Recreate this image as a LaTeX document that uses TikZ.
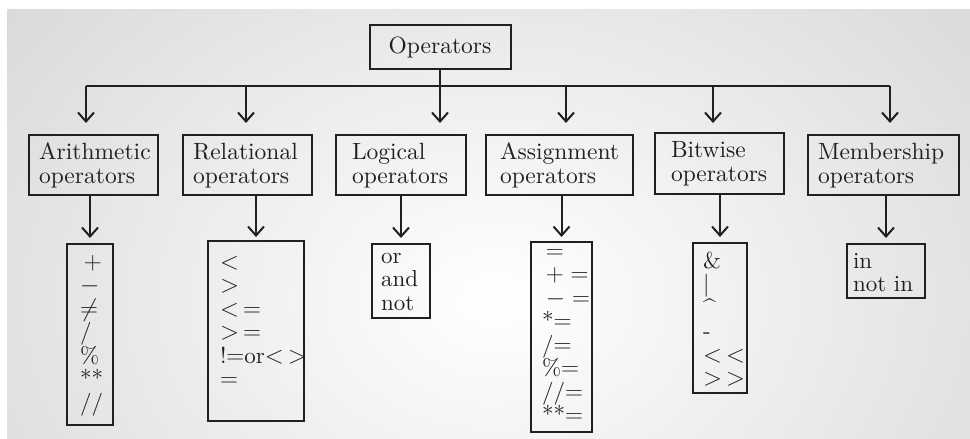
\documentclass[tikz,border=0pt]{standalone}
\usepackage{amsmath,amssymb}
\usepackage{fontspec}
\setmainfont{lmroman10-regular.otf}
\usepackage{xcolor}
\usepackage{tikz}
\usetikzlibrary{arrows.meta,positioning}
\definecolor{panelgrey}{HTML}{C2C3C6}
\definecolor{inkgrey}{HTML}{231F20}
\tikzset{
  opbox/.style={draw=inkgrey, line width=2pt, align=left, anchor=north,
    inner ysep=0pt, inner xsep=10pt, text=inkgrey,
    font=\fontsize{23.5}{24.5}\selectfont},
  listbox/.style={opbox, font=\fontsize{23}{23.5}\selectfont},
  link/.style={draw=inkgrey, line width=2pt},
  arr/.style={link, -{Straight Barb[length=9pt,width=16pt]}}
}

\begin{document}
\begin{tikzpicture}[x=1pt, y=-1pt]
  \useasboundingbox (0,0) rectangle (970,439);
  % grey panel, lighter towards the middle
  \fill[panelgrey] (7,9) rectangle (970,439);
  \begin{scope}
    \clip (7,9) rectangle (970,439);
    \shade[inner color=white, outer color=panelgrey] (495,300) ellipse (1000 and 760);
  \end{scope}
  % root
  \node[draw=inkgrey, line width=2pt, text=inkgrey, minimum width=141pt, minimum height=44pt,
    font=\fontsize{23.5}{24.5}\selectfont] (ops) at (440,47) {Operators};
  % kinds of operators
  \node[opbox, text width=109pt, text height=24pt, text depth=36pt] (arith) at (93.5,134) {Arithmetic\\operators};
  \node[opbox, text width=109pt, text height=24pt, text depth=36pt] (rel) at (247.5,134) {Relational\\operators};
  \node[opbox, inner xsep=16pt, text width=98pt, text height=24pt, text depth=36pt] (logic) at (401,134) {Logical\\operators};
  \node[opbox, inner xsep=14pt, text width=119pt, text height=24pt, text depth=36pt] (assign) at (559.5,134) {Assignment\\operators};
  \node[opbox, inner xsep=16pt, text width=97pt, text height=24pt, text depth=37pt] (bitw) at (719.5,132) {Bitwise\\operators};
  \node[opbox, text width=131pt, text height=24pt, text depth=36pt] (memb) at (883.5,134) {Membership\\operators};
  % the operators themselves
  \node[listbox, inner xsep=13pt, text width=20pt, text height=25pt, text depth=156pt] (arithL) at (90,243)
    {\,$+$\\$-$\\$\neq$\\/\\\%\\{}**\\//};
  \node[listbox, inner xsep=12pt, text width=72pt, text height=28pt, text depth=152pt] (relL) at (256,240)
    {$<$\\$>$\\$<\,=$\\$>\,=$\\\mbox{!$=$or$<\,>$}\\$=$};
  \node[listbox, inner xsep=9pt, text width=40pt, text height=19pt, text depth=55pt] (logicL) at (401,243)
    {or\\and\\not};
  \node[listbox, inner xsep=11pt, text width=39pt, text height=16pt, text depth=174pt] (assignL) at (561.5,241)
    {\,$=$\\\,$+=$\\\,$-=$\\{}*$=$\\/$=$\\\%$=$\\//$=$\\{}**$=$};
  \node[listbox, text width=34pt, text height=25pt, text depth=125pt] (bitwL) at (720,242)
    {\&\\|\\\textasciicircum\\-\\\mbox{$<\,<$}\\\mbox{$>\,>$}};
  \node[listbox, inner xsep=6pt, text width=66pt, text height=24pt, text depth=30pt] (membL) at (886,243)
    {in\\\mbox{not in}};
  % bus and arrows
  \coordinate (hA) at (86,86);
  \coordinate (hR) at (246,86);
  \coordinate (hS) at (566,86);
  \coordinate (hB) at (713,86);
  \coordinate (hM) at (890,86);
  \draw[link] (hA) -- (hM);
  \draw[arr, shorten >=11pt] (ops.south) -- (ops.south |- logic.north);
  \draw[arr, shorten >=11pt] (hA) -- (hA |- arith.north);
  \draw[arr, shorten >=11pt] (hR) -- (hR |- rel.north);
  \draw[arr, shorten >=11pt] (hS) -- (hS |- assign.north);
  \draw[arr, shorten >=9pt] (hB) -- (hB |- bitw.north);
  \draw[arr, shorten >=11pt] (hM) -- (hM |- memb.north);
  \draw[arr, shorten >=5pt] (arithL.north |- arith.south) -- (arithL.north);
  \draw[arr, shorten >=3pt] (relL.north |- rel.south) -- (relL.north);
  \draw[arr, shorten >=5pt] (logicL.north |- logic.south) -- (logicL.north);
  \draw[arr, shorten >=4pt] (assignL.north |- assign.south) -- (assignL.north);
  \draw[arr, shorten >=5pt] (bitwL.north |- bitw.south) -- (bitwL.north);
  \draw[arr, shorten >=5pt] (membL.north |- memb.south) -- (membL.north);
\end{tikzpicture}
\end{document}
